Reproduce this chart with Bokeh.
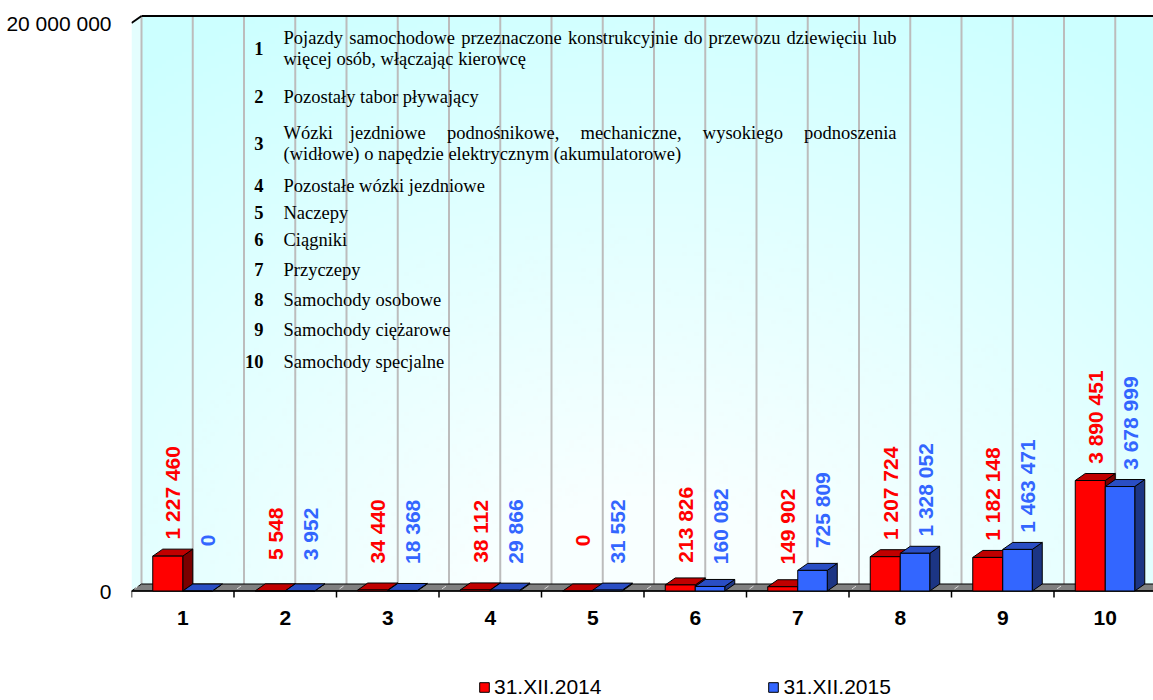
import numpy as np
from bokeh.plotting import figure
from bokeh.models import Range1d, FixedTicker, Legend, LegendItem
from bokeh.core.properties import value
from bokeh.embed import file_html
from bokeh.resources import INLINE

# ---------------- data ----------------
categories = ["1", "2", "3", "4", "5", "6", "7", "8", "9", "10"]
series_2014 = [1227460, 5548, 34440, 38112, 0, 213826, 149902, 1207724, 1182148, 3890451]
series_2015 = [0, 3952, 18368, 29866, 31552, 160082, 725809, 1328052, 1463471, 3678999]
series_names = ["31.XII.2014", "31.XII.2015"]
y_ticks = [0, 20000000]
y_tick_labels = ["0", "20 000 000"]
note_numbers = ["1", "2", "3", "4", "5", "6", "7", "8", "9", "10"]
descriptions = [
    "Pojazdy samochodowe przeznaczone konstrukcyjnie do przewozu dziewięciu lub\nwięcej osób, włączając kierowcę",
    "Pozostały tabor pływający",
    "Wózki jezdniowe podnośnikowe, mechaniczne, wysokiego podnoszenia\n(widłowe) o napędzie elektrycznym (akumulatorowe)",
    "Pozostałe wózki jezdniowe",
    "Naczepy",
    "Ciągniki",
    "Przyczepy",
    "Samochody osobowe",
    "Samochody ciężarowe",
    "Samochody specjalne",
]

# ---------------- layout (pixels of the reference page) ----------------
W, H = 1153, 700
PAGE = 0
FRAME_LEFT = 131.0          # front-left corner of the floor
CAT_PX = 102.5              # width of one category
YMAX = 20000000
Y_PX = 568.0                # pixels for YMAX
FRONT0 = 590.5              # front floor line
DX_PX, DY_PX = 10.0, 7.0    # 3-D depth offset
PX_Y = YMAX / Y_PX

x_start = 0.5
x_end = 0.5 + (PAGE + W - FRAME_LEFT) / CAT_PX
y_start = -(PAGE + H - FRONT0) * PX_Y
y_end = (FRONT0 - PAGE) * PX_Y
DX = DX_PX / CAT_PX
DY = DY_PX * PX_Y


def X(rx):
    return 0.5 + (rx - FRAME_LEFT) / CAT_PX


def Y(ry):
    return (FRONT0 - ry) * PX_Y


p = figure(width=W, height=H, x_range=Range1d(x_start, x_end), y_range=Range1d(y_start, y_end),
           output_backend="svg", toolbar_location=None, x_axis_location=None,
           y_axis_location="left", min_border=0, min_border_left=int(FRAME_LEFT - PAGE),
           background_fill_color="white", border_fill_color="white", outline_line_color=None)
p.grid.visible = False

# y axis (labels only)
ya = p.yaxis[0]
ya.ticker = FixedTicker(ticks=y_ticks)
ya.major_label_overrides = {t: l for t, l in zip(y_ticks, y_tick_labels)}
ya.axis_line_color = None
ya.major_tick_line_color = None
ya.minor_tick_line_color = None
ya.major_label_standoff = 14
ya.major_label_text_font = "Liberation Sans"
ya.major_label_text_font_size = "21px"
ya.major_label_text_color = "black"

# ---------------- back wall gradient ----------------
nx, ny = 253, 142
rx = 141 + (np.arange(nx) + 0.5) * (1163 - 141) / nx
ry = 583.5 - (np.arange(ny) + 0.5) * Y_PX / ny
RX, RY = np.meshgrid(rx, ry)
d = np.sqrt((RX - 640) ** 2 + ((RY - 640) * 1.25) ** 2)
t = np.clip((d - 180) / 700, 0, 1)
light = np.array([248, 255, 255])
cyan = np.array([204, 255, 255])
img = np.empty((ny, nx), dtype=np.uint32)
view = img.view(dtype=np.uint8).reshape((ny, nx, 4))
for c in range(3):
    view[:, :, c] = (light[c] * (1 - t) + cyan[c] * t).astype(np.uint8)
view[:, :, 3] = 255
p.image_rgba(image=[img], x=X(141), y=DY, dw=(1163 - 141) / CAT_PX, dh=YMAX)

# left side wall
p.patch([0.5, 0.5 + DX, 0.5 + DX, 0.5], [0, DY, YMAX + DY, YMAX],
        fill_color="#e4fefe", line_color=None)

# back wall vertical grid lines
gx = [0.5 + DX + 0.5 * j for j in range(22)]
p.segment(x0=gx, y0=[DY] * len(gx), x1=gx, y1=[YMAX + DY] * len(gx),
          line_color="#bcbcbc", line_width=2)

# top edge and left diagonal
p.segment(x0=[0.5 + DX, 0.5], y0=[YMAX + DY, YMAX], x1=[x_end + 1, 0.5 + DX], y1=[YMAX + DY, YMAX + DY],
          line_color="black", line_width=2)

# floor
p.patch([0.5, 0.5 + DX, x_end + 1, x_end + 1], [0, DY, DY, 0],
        fill_color="#808080", line_color="black", line_width=1)
fx = [0.5 + 0.5 * j for j in range(22)]
p.segment(x0=[v + DX * 0.7 for v in fx], y0=[DY * 0.7] * len(fx), x1=[v + DX * 0.3 for v in fx],
          y1=[DY * 0.3] * len(fx), line_color="#d8d8d8", line_width=1)

# x axis line, ticks, labels
kx = np.arange(1, len(categories) + 1, dtype=float)
p.segment(x0=[0.5], y0=[0], x1=[x_end + 1], y1=[0], line_color="black", line_width=1.5)
bx = list(kx - 0.5) + [kx[-1] + 0.5]
p.segment(x0=bx, y0=[0] * len(bx), x1=bx, y1=[Y(597)] * len(bx), line_color="black", line_width=1.5)
p.text(x=list(kx), y=[Y(617)] * len(kx), text=categories, text_align="center", text_baseline="middle",
       text_font=value("Liberation Sans"), text_font_style="bold", text_font_size="21px", text_color="black")


# ---------------- 3-D bars ----------------
def bars(vals, left_off, right_off, c_front, c_top, c_side):
    v = np.array(vals, dtype=float)
    left = kx + left_off
    right = kx + right_off
    side_xs = [[r, r + DX, r + DX, r] for r in right]
    side_ys = [[0, DY, h + DY, h] for h in v]
    p.patches(side_xs, side_ys, fill_color=c_side, line_color="black", line_width=1)
    top_xs = [[l, r, r + DX, l + DX] for l, r in zip(left, right)]
    top_ys = [[h, h, h + DY, h + DY] for h in v]
    p.patches(top_xs, top_ys, fill_color=c_top, line_color="black", line_width=1)
    return p.quad(left=left, right=right, bottom=0, top=v, fill_color=c_front, line_color="black", line_width=1)


red = bars(series_2014, -30 / CAT_PX, 0.0, "#FF0000", "#C00000", "#7A0000")
blue = bars(series_2015, 0.0, 29.5 / CAT_PX, "#3366FF", "#2A4EC4", "#1C3584")


def fmt(v):
    return "{:,}".format(v).replace(",", " ")


def labels(vals, x_off, color):
    txt = [fmt(v) for v in vals]
    ys = [v + DY + (42 + 1.6 * len(s)) * PX_Y for v, s in zip(vals, txt)]
    p.text(x=list(kx + x_off), y=ys, text=txt, angle=np.pi / 2, text_align="center", text_baseline="middle",
           text_font=value("Liberation Sans"), text_font_style="bold", text_font_size="21px", text_color=color)


labels(series_2014, -10 / CAT_PX, "#FF0000")
labels(series_2015, 25 / CAT_PX, "#3366FF")

# ---------------- explanatory notes ----------------
TIMES = {' ': 250, ',': 250, '.': 250, '(': 333, ')': 333, 'a': 444, 'b': 500, 'c': 444, 'd': 500, 'e': 444,
         'f': 333, 'g': 500, 'h': 500, 'i': 278, 'j': 278, 'k': 500, 'l': 278, 'm': 778, 'n': 500, 'o': 500,
         'p': 500, 'q': 500, 'r': 333, 's': 389, 't': 278, 'u': 500, 'v': 500, 'w': 722, 'x': 500, 'y': 500,
         'z': 444, 'ą': 444, 'ę': 444, 'ł': 278, 'ó': 500, 'ś': 389, 'ż': 444, 'ć': 444, 'ń': 500, 'ź': 444,
         'P': 556, 'W': 722, 'S': 556, 'N': 722, 'C': 667}
NOTE_SIZE = 18.5
NUM_RIGHT, TXT_LEFT, TXT_RIGHT = 263, 283, 896
note_y = [48, 96, 143, 185, 212, 239, 269, 299, 329, 361]
LINE_GAP = 21.5


def tw(s):
    return sum(TIMES.get(ch, 500) for ch in s) / 1000 * NOTE_SIZE


num_x, num_y = [], []
wx, wy, wt = [], [], []
for num, desc, cy in zip(note_numbers, descriptions, note_y):
    num_x.append(X(NUM_RIGHT))
    num_y.append(Y(cy))
    lines = desc.split("\n")
    n = len(lines)
    for i, line in enumerate(lines):
        ly = cy + (i - (n - 1) / 2) * LINE_GAP
        if i < n - 1:
            words = line.split(" ")
            widths = [tw(w) for w in words]
            gap = (TXT_RIGHT - TXT_LEFT - sum(widths)) / (len(words) - 1)
            pos = TXT_LEFT
            for w, ww in zip(words, widths):
                wx.append(X(pos)); wy.append(Y(ly)); wt.append(w)
                pos += ww + gap
        else:
            wx.append(X(TXT_LEFT)); wy.append(Y(ly)); wt.append(line)

p.text(x=num_x, y=num_y, text=note_numbers, text_align="right", text_baseline="middle",
       text_font=value("Liberation Serif"), text_font_style="bold", text_font_size=f"{NOTE_SIZE}px",
       text_color="black")
p.text(x=wx, y=wy, text=wt, text_align="left", text_baseline="middle",
       text_font=value("Liberation Serif"), text_font_size=f"{NOTE_SIZE}px", text_color="black")

# ---------------- legend ----------------
legend = Legend(items=[LegendItem(label=series_names[0], renderers=[red]),
                       LegendItem(label=series_names[1], renderers=[blue])],
                orientation="horizontal", location=(478 - FRAME_LEFT, 1),
                glyph_width=12, glyph_height=12, label_standoff=4, spacing=166,
                padding=0, margin=0, border_line_color=None, background_fill_alpha=0,
                label_text_font="Liberation Sans", label_text_font_size="21px", label_text_color="black")
p.add_layout(legend)

open("out.html", "w").write(file_html(p, INLINE))
